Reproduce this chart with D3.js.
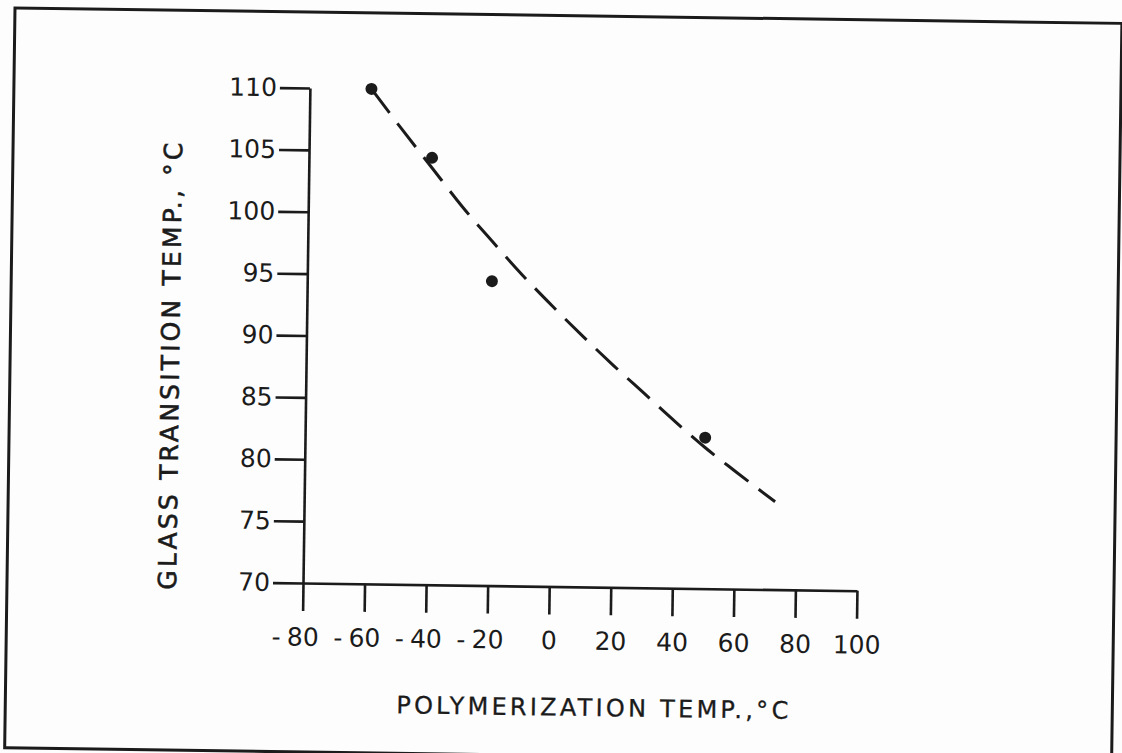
<!DOCTYPE html>
<html>
<head>
<meta charset="utf-8">
<script src="https://cdn.jsdelivr.net/npm/d3@7"></script>
<style>
  html, body { margin: 0; padding: 0; background: #fdfdfd; }
  svg { display: block; }
  text { font-family: "DejaVu Sans", sans-serif; fill: #1b1b1b; }
</style>
</head>
<body>
<svg id="chart" width="1122" height="753"></svg>
<script>
// ---- data ----
const pointX = [-60, -40, -20, 50];          // polymerization temp, °C
const pointY = [110, 104.5, 94.6, 82.2];     // glass transition temp, °C

const curveX = [-60, -50, -40, -30, -20, -10, 0, 10, 20, 30, 40, 50, 60, 73];
const curveY = [110, 106.8, 103.7, 100.6, 97.8, 95.1, 92.6, 90.2, 87.9, 85.7, 83.5, 81.4, 79.5, 77.1];

const xTicks = [-80, -60, -40, -20, 0, 20, 40, 60, 80, 100];
const yTicks = [70, 75, 80, 85, 90, 95, 100, 105, 110];

const xTitle = "POLYMERIZATION TEMP.,°C";
const yTitle = "GLASS TRANSITION TEMP., °C";

// ---- layout ----
const svg = d3.select("#chart");
const originX = 303, originY = 583;
const x = d3.scaleLinear().domain([-80, 100]).range([303, 857]);
const y = d3.scaleLinear().domain([70, 110]).range([583, 88]);

const ink = "#1b1b1b";
// whole scanned page is slightly rotated
const g = svg.append("g").attr("transform", `rotate(0.8, ${originX}, ${originY})`);

// frame
g.append("rect")
  .attr("x", 7).attr("y", 12).attr("width", 1107).attr("height", 740)
  .attr("fill", "none").attr("stroke", ink).attr("stroke-width", 3);

// y axis
const yAxis = d3.axisLeft(y).tickValues(yTicks).tickSize(30).tickSizeOuter(0).tickPadding(3)
  .tickFormat(d => String(d));
const gy = g.append("g").attr("transform", `translate(${x(-80)},0)`).call(yAxis);
gy.select(".domain").attr("stroke", ink).attr("stroke-width", 2.6);
gy.selectAll(".tick line").attr("stroke", ink).attr("stroke-width", 2.6);
gy.selectAll(".tick text").attr("font-size", 25).attr("fill", ink)
  .attr("font-family", "DejaVu Sans, sans-serif");

// x axis
const xAxis = d3.axisBottom(x).tickValues(xTicks).tickSize(28).tickSizeOuter(0).tickPadding(17)
  .tickFormat(d => d < 0 ? "-\u2005" + Math.abs(d) : String(d));
const gx = g.append("g").attr("transform", `translate(0,${y(70)})`).call(xAxis);
gx.select(".domain").attr("stroke", ink).attr("stroke-width", 2.6);
gx.selectAll(".tick line").attr("stroke", ink).attr("stroke-width", 2.6);
gx.selectAll(".tick text").attr("font-size", 25).attr("fill", ink)
  .attr("font-family", "DejaVu Sans, sans-serif")
  .attr("dx", d => d < 0 ? "-0.3em" : 0);

// dashed fitted curve
const line = d3.line().x(d => x(d[0])).y(d => y(d[1])).curve(d3.curveMonotoneX);
g.append("path")
  .datum(d3.zip(curveX, curveY))
  .attr("d", line)
  .attr("fill", "none")
  .attr("stroke", ink)
  .attr("stroke-width", 3)
  .attr("stroke-dasharray", "30,13");

// data points
g.selectAll("circle.pt")
  .data(d3.zip(pointX, pointY))
  .join("circle")
  .attr("class", "pt")
  .attr("cx", d => x(d[0]))
  .attr("cy", d => y(d[1]))
  .attr("r", 6)
  .attr("fill", ink);

// axis titles
g.append("text")
  .attr("x", 594).attr("y", 712)
  .attr("text-anchor", "middle")
  .attr("font-size", 24)
  .attr("stroke", ink).attr("stroke-width", 0.3)
  .attr("textLength", 392).attr("lengthAdjust", "spacing")
  .text(xTitle);

g.append("text")
  .attr("transform", `translate(176,368) rotate(-90)`)
  .attr("text-anchor", "middle")
  .attr("font-size", 25)
  .attr("stroke", ink).attr("stroke-width", 0.6)
  .attr("textLength", 447).attr("lengthAdjust", "spacing")
  .text(yTitle);
</script>
</body>
</html>
